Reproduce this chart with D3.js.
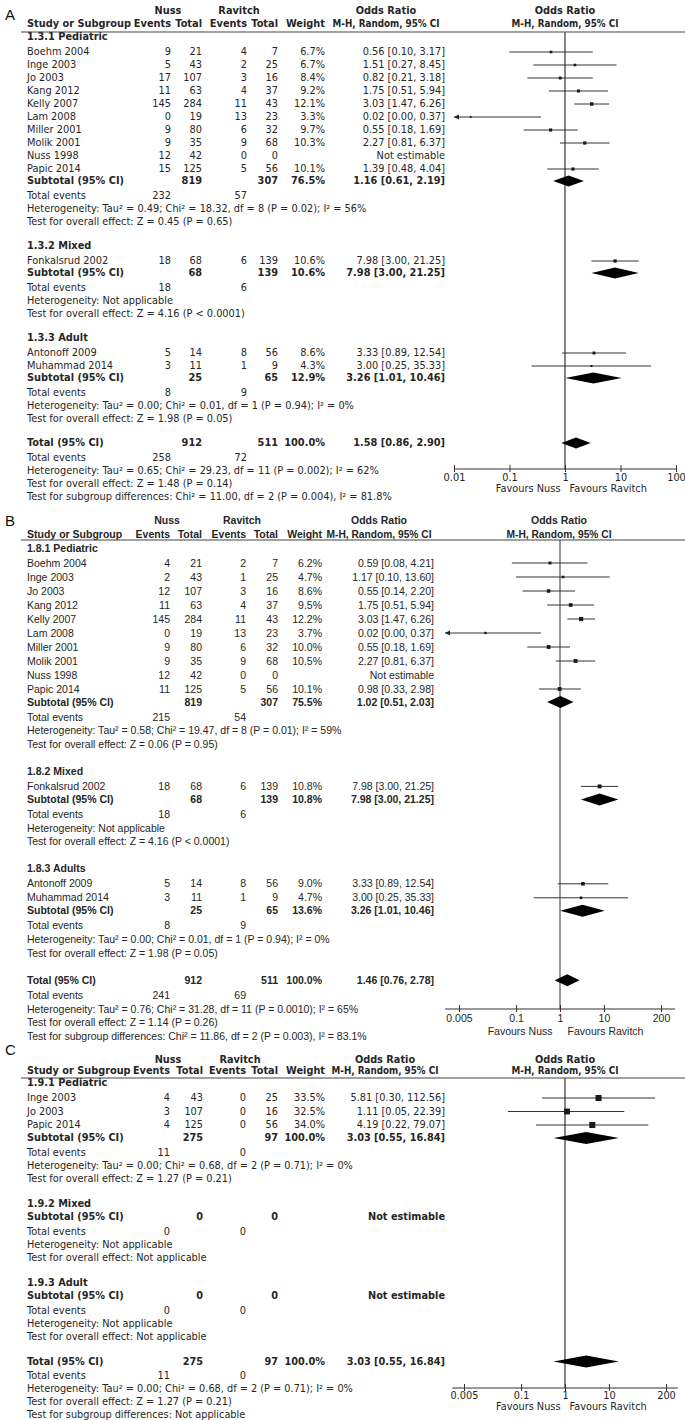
<!DOCTYPE html>
<html><head><meta charset="utf-8">
<script src="https://cdn.jsdelivr.net/npm/d3@7"></script>
<style>body{margin:0;background:#fff}</style>
</head><body>
<svg id="chart" width="685" height="1420"></svg>
<script>
// ================= DATA =================
// study rows: [name, nussEvents, nussTotal, ravitchEvents, ravitchTotal, weight%, OR, lower, upper]
const A_groupNames = ["1.3.1 Pediatric", "1.3.2 Mixed", "1.3.3 Adult"];
const A_pediatric = [
  ["Boehm 2004", 9, 21, 4, 7, 6.7, 0.56, 0.10, 3.17],
  ["Inge 2003", 5, 43, 2, 25, 6.7, 1.51, 0.27, 8.45],
  ["Jo 2003", 17, 107, 3, 16, 8.4, 0.82, 0.21, 3.18],
  ["Kang 2012", 11, 63, 4, 37, 9.2, 1.75, 0.51, 5.94],
  ["Kelly 2007", 145, 284, 11, 43, 12.1, 3.03, 1.47, 6.26],
  ["Lam 2008", 0, 19, 13, 23, 3.3, 0.02, 0.00, 0.37],
  ["Miller 2001", 9, 80, 6, 32, 9.7, 0.55, 0.18, 1.69],
  ["Molik 2001", 9, 35, 9, 68, 10.3, 2.27, 0.81, 6.37],
  ["Nuss 1998", 12, 42, 0, 0, null, null, null, null],
  ["Papic 2014", 15, 125, 5, 56, 10.1, 1.39, 0.48, 4.04]
];
const A_mixed = [["Fonkalsrud 2002", 18, 68, 6, 139, 10.6, 7.98, 3.00, 21.25]];
const A_adult = [
  ["Antonoff 2009", 5, 14, 8, 56, 8.6, 3.33, 0.89, 12.54],
  ["Muhammad 2014", 3, 11, 1, 9, 4.3, 3.00, 0.25, 35.33]
];
// subtotal: [nussTotal, ravitchTotal, weight, OR, lower, upper]
const A_subtotals = [[819, 307, 76.5, 1.16, 0.61, 2.19], [68, 139, 10.6, 7.98, 3.00, 21.25], [25, 65, 12.9, 3.26, 1.01, 10.46]];
const A_groupEvents = [[232, 57], [18, 6], [8, 9]];
const A_heterogeneity = [
  "Heterogeneity: Tau\u00b2 = 0.49; Chi\u00b2 = 18.32, df = 8 (P = 0.02); I\u00b2 = 56%",
  "Heterogeneity: Not applicable",
  "Heterogeneity: Tau\u00b2 = 0.00; Chi\u00b2 = 0.01, df = 1 (P = 0.94); I\u00b2 = 0%"
];
const A_overall = ["Test for overall effect: Z = 0.45 (P = 0.65)", "Test for overall effect: Z = 4.16 (P < 0.0001)", "Test for overall effect: Z = 1.98 (P = 0.05)"];
const A_total = [912, 511, 100.0, 1.58, 0.86, 2.90];
const A_totalEvents = [258, 72];
const A_totalHet = "Heterogeneity: Tau\u00b2 = 0.65; Chi\u00b2 = 29.23, df = 11 (P = 0.002); I\u00b2 = 62%";
const A_totalTest = "Test for overall effect: Z = 1.48 (P = 0.14)";
const A_subgroupTest = "Test for subgroup differences: Chi\u00b2 = 11.00, df = 2 (P = 0.004), I\u00b2 = 81.8%";
const A_ticks = [0.01, 0.1, 1, 10, 100];
const A_tickLabels = ["0.01", "0.1", "1", "10", "100"];

const B_groupNames = ["1.8.1 Pediatric", "1.8.2 Mixed", "1.8.3 Adults"];
const B_pediatric = [
  ["Boehm 2004", 4, 21, 2, 7, 6.2, 0.59, 0.08, 4.21],
  ["Inge 2003", 2, 43, 1, 25, 4.7, 1.17, 0.10, 13.60],
  ["Jo 2003", 12, 107, 3, 16, 8.6, 0.55, 0.14, 2.20],
  ["Kang 2012", 11, 63, 4, 37, 9.5, 1.75, 0.51, 5.94],
  ["Kelly 2007", 145, 284, 11, 43, 12.2, 3.03, 1.47, 6.26],
  ["Lam 2008", 0, 19, 13, 23, 3.7, 0.02, 0.00, 0.37],
  ["Miller 2001", 9, 80, 6, 32, 10.0, 0.55, 0.18, 1.69],
  ["Molik 2001", 9, 35, 9, 68, 10.5, 2.27, 0.81, 6.37],
  ["Nuss 1998", 12, 42, 0, 0, null, null, null, null],
  ["Papic 2014", 11, 125, 5, 56, 10.1, 0.98, 0.33, 2.98]
];
const B_mixed = [["Fonkalsrud 2002", 18, 68, 6, 139, 10.8, 7.98, 3.00, 21.25]];
const B_adult = [
  ["Antonoff 2009", 5, 14, 8, 56, 9.0, 3.33, 0.89, 12.54],
  ["Muhammad 2014", 3, 11, 1, 9, 4.7, 3.00, 0.25, 35.33]
];
const B_subtotals = [[819, 307, 75.5, 1.02, 0.51, 2.03], [68, 139, 10.8, 7.98, 3.00, 21.25], [25, 65, 13.6, 3.26, 1.01, 10.46]];
const B_groupEvents = [[215, 54], [18, 6], [8, 9]];
const B_heterogeneity = [
  "Heterogeneity: Tau\u00b2 = 0.58; Chi\u00b2 = 19.47, df = 8 (P = 0.01); I\u00b2 = 59%",
  "Heterogeneity: Not applicable",
  "Heterogeneity: Tau\u00b2 = 0.00; Chi\u00b2 = 0.01, df = 1 (P = 0.94); I\u00b2 = 0%"
];
const B_overall = ["Test for overall effect: Z = 0.06 (P = 0.95)", "Test for overall effect: Z = 4.16 (P < 0.0001)", "Test for overall effect: Z = 1.98 (P = 0.05)"];
const B_total = [912, 511, 100.0, 1.46, 0.76, 2.78];
const B_totalEvents = [241, 69];
const B_totalHet = "Heterogeneity: Tau\u00b2 = 0.76; Chi\u00b2 = 31.28, df = 11 (P = 0.0010); I\u00b2 = 65%";
const B_totalTest = "Test for overall effect: Z = 1.14 (P = 0.26)";
const B_subgroupTest = "Test for subgroup differences: Chi\u00b2 = 11.86, df = 2 (P = 0.003), I\u00b2 = 83.1%";
const B_ticks = [0.005, 0.1, 1, 10, 200];
const B_tickLabels = ["0.005", "0.1", "1", "10", "200"];

const C_groupNames = ["1.9.1 Pediatric", "1.9.2 Mixed", "1.9.3 Adult"];
const C_pediatric = [
  ["Inge 2003", 4, 43, 0, 25, 33.5, 5.81, 0.30, 112.56],
  ["Jo 2003", 3, 107, 0, 16, 32.5, 1.11, 0.05, 22.39],
  ["Papic 2014", 4, 125, 0, 56, 34.0, 4.19, 0.22, 79.07]
];
const C_mixed = [];
const C_adult = [];
const C_subtotals = [[275, 97, 100.0, 3.03, 0.55, 16.84], [0, 0, null, null, null, null], [0, 0, null, null, null, null]];
const C_groupEvents = [[11, 0], [0, 0], [0, 0]];
const C_heterogeneity = [
  "Heterogeneity: Tau\u00b2 = 0.00; Chi\u00b2 = 0.68, df = 2 (P = 0.71); I\u00b2 = 0%",
  "Heterogeneity: Not applicable",
  "Heterogeneity: Not applicable"
];
const C_overall = ["Test for overall effect: Z = 1.27 (P = 0.21)", "Test for overall effect: Not applicable", "Test for overall effect: Not applicable"];
const C_total = [275, 97, 100.0, 3.03, 0.55, 16.84];
const C_totalEvents = [11, 0];
const C_totalHet = "Heterogeneity: Tau\u00b2 = 0.00; Chi\u00b2 = 0.68, df = 2 (P = 0.71); I\u00b2 = 0%";
const C_totalTest = "Test for overall effect: Z = 1.27 (P = 0.21)";
const C_subgroupTest = "Test for subgroup differences: Not applicable";
const C_ticks = [0.005, 0.1, 1, 10, 200];
const C_tickLabels = ["0.005", "0.1", "1", "10", "200"];

// ================= LAYOUT (positions / styles only) =================
const lucida = '"DejaVu Sans", "Lucida Grande", sans-serif';
const arial = '"Liberation Sans", Arial, sans-serif';
const layoutA = {family: lucida, hetWidth: 340, letter: "A", letterY: 15, h1: 11, h2: 24, line: 32, first: 37,
  L: 15, P: 13, S: 12, T: 14.5, H: 13, G: 24.5,
  cols: {ne: 171, nt: 202, re: 247, rt: 278, w: 325, or: 445}, nussC: 168, ravC: 239, orC: 386, plotC: 565, mhW: 107,
  domain: [0.01, 100], range: [454, 676], extent: [0.01, 100], axisY: 469, tickY: 478, favY: 489, favGap: 4.5,
  vStroke: "#666", vWidth: 1.6, dH: 11, sqK: 1.0};
const layoutB = {family: arial, hetWidth: 315, letter: "B", letterY: 521, h1: 520, h2: 534, line: 540, first: 548,
  L: 15, P: 14, S: 13, T: 15, H: 13.7, G: 27,
  cols: {ne: 170, nt: 202, re: 246, rt: 278, w: 322, or: 434}, nussC: 167, ravC: 242, orC: 379, plotC: 559, mhW: 105,
  domain: [0.005, 200], range: [459, 661], extent: [0.0024, 420], axisY: 1009, tickY: 1018, favY: 1031, favGap: 7.5,
  vStroke: "#555", vWidth: 1.2, dH: 12, sqK: 1.2};
const layoutC = {family: lucida, hetWidth: 326, letter: "C", letterY: 1050, h1: 1060, h2: 1071, line: 1078, first: 1083,
  L: 15, P: 13.5, S: 13, T: 14.5, H: 13, G: 25.3,
  cols: {ne: 170, nt: 203, re: 246, rt: 278, w: 325, or: 445}, nussC: 168, ravC: 240, orC: 385, plotC: 565, mhW: 107,
  domain: [0.005, 200], range: [464, 666], extent: [0.0027, 370], axisY: 1388, tickY: 1396, favY: 1407, favGap: 4.5,
  vStroke: "#666", vWidth: 1.6, dH: 12, sqK: 1.04};

const svg = d3.select("#chart");
const INK = "#262626";

function fitSize(family, text, target) {
  const t = svg.append("text").attr("font-family", family).attr("font-size", 10).text(text);
  const w = t.node().getComputedTextLength();
  t.remove();
  return 10 * target / w;
}
const f2 = v => v.toFixed(2);
const orText = r => r[0] == null ? "Not estimable" : `${f2(r[0])} [${f2(r[1])}, ${f2(r[2])}]`;

function render(d, L) {
  const g = svg.append("g");
  const fs = fitSize(L.family, d.heterogeneity[0], L.hetWidth);
  const txt = (x, y, s, anchor = "start", bold = false) =>
    g.append("text").attr("x", x).attr("y", y).attr("dy", "0.35em")
      .attr("font-family", L.family).attr("font-size", fs).attr("fill", INK)
      .attr("font-weight", bold ? "bold" : "normal").attr("text-anchor", anchor).text(s);

  const x = d3.scaleLog().domain(L.domain).range(L.range);
  const xmin = x(L.extent[0]), xmax = x(L.extent[1]);
  const C = L.cols;

  // panel letter
  g.append("text").attr("x", 5).attr("y", L.letterY).attr("dy", "0.36em")
    .attr("font-family", arial).attr("font-size", 15).attr("fill", "#111").text(L.letter);

  // headers
  txt(L.nussC, L.h1, "Nuss", "middle", true);
  txt(L.ravC, L.h1, "Ravitch", "middle", true);
  txt(L.orC, L.h1, "Odds Ratio", "middle", true);
  txt(L.plotC, L.h1, "Odds Ratio", "middle", true);
  txt(27, L.h2, "Study or Subgroup", "start", true);
  txt(C.ne, L.h2, "Events", "end", true);
  txt(C.nt, L.h2, "Total", "end", true);
  txt(C.re, L.h2, "Events", "end", true);
  txt(C.rt, L.h2, "Total", "end", true);
  txt(C.w, L.h2, "Weight", "end", true);
  txt(L.orC, L.h2, "M-H, Random, 95% CI", "middle", true).attr("textLength", L.mhW).attr("lengthAdjust", "spacingAndGlyphs");
  txt(L.plotC, L.h2, "M-H, Random, 95% CI", "middle", true).attr("textLength", L.mhW).attr("lengthAdjust", "spacingAndGlyphs");
  g.append("line").attr("x1", 21).attr("x2", 685).attr("y1", L.line).attr("y2", L.line)
    .attr("stroke", "#444").attr("stroke-width", 1.2);

  // line of no effect
  g.append("line").attr("x1", x(1)).attr("x2", x(1)).attr("y1", L.line).attr("y2", L.axisY)
    .attr("stroke", L.vStroke).attr("stroke-width", L.vWidth);

  const ciMark = (or, lo, hi, w, y) => {
    const a = lo <= L.extent[0] ? xmin : x(lo);
    const b = hi >= L.extent[1] ? xmax : x(hi);
    g.append("line").attr("x1", a).attr("x2", b).attr("y1", y).attr("y2", y)
      .attr("stroke", "#333").attr("stroke-width", 1);
    if (lo <= L.extent[0]) g.append("path").attr("d", `M${a},${y}L${a + 5},${y - 2.6}L${a + 5},${y + 2.6}Z`).attr("fill", "#222");
    if (hi >= L.extent[1]) g.append("path").attr("d", `M${b},${y}L${b - 5},${y - 2.6}L${b - 5},${y + 2.6}Z`).attr("fill", "#222");
    const s = Math.max(1.8, L.sqK * Math.sqrt(w));
    g.append("rect").attr("x", x(or) - s / 2).attr("y", y - s / 2).attr("width", s).attr("height", s).attr("fill", "#1a1a1a");
  };
  const diamond = (or, lo, hi, y) => {
    const h = L.dH / 2;
    g.append("path").attr("d", `M${x(lo)},${y}L${x(or)},${y - h}L${x(hi)},${y}L${x(or)},${y + h}Z`).attr("fill", "#000");
  };
  const studyRow = (r, y) => {
    txt(27, y, r[0]);
    txt(C.ne, y, r[1], "end"); txt(C.nt, y, r[2], "end");
    txt(C.re, y, r[3], "end"); txt(C.rt, y, r[4], "end");
    if (r[5] != null) txt(C.w, y, r[5].toFixed(1) + "%", "end");
    txt(C.or, y, orText(r.slice(6)), "end");
    if (r[6] != null) ciMark(r[6], r[7], r[8], r[5], y);
  };
  const summaryRow = (label, s, y) => {
    txt(27, y, label, "start", true);
    txt(C.nt, y, s[0], "end", true); txt(C.rt, y, s[1], "end", true);
    if (s[2] != null) txt(C.w, y, s[2].toFixed(1) + "%", "end", true);
    txt(C.or, y, orText(s.slice(3)), "end", true);
    if (s[3] != null) diamond(s[3], s[4], s[5], y);
  };
  const eventsRow = (e, y) => {
    txt(27, y, "Total events");
    txt(C.ne, y, e[0], "end"); txt(C.re, y, e[1], "end");
  };

  let y = L.first;
  d.groups.forEach((name, gi) => {
    txt(27, y, name, "start", true);
    const st = d.studies[gi];
    if (st.length) {
      y += L.L;
      st.forEach((r, i) => { if (i > 0) y += L.P; studyRow(r, y); });
    }
    y += L.S;
    summaryRow("Subtotal (95% CI)", d.subtotals[gi], y);
    y += L.T; eventsRow(d.events[gi], y);
    y += L.H; txt(27, y, d.heterogeneity[gi]);
    y += L.H; txt(27, y, d.overall[gi]);
    y += L.G;
  });
  summaryRow("Total (95% CI)", d.total, y);
  y += L.T; eventsRow(d.totalEvents, y);
  y += L.H; txt(27, y, d.totalHet);
  y += L.H; txt(27, y, d.totalTest);
  y += L.H; txt(27, y, d.subgroupTest);

  // axis
  const ax = g.append("g").attr("transform", `translate(0,${L.axisY})`)
    .call(d3.axisBottom(x).tickValues(d.ticks).tickFormat((v, i) => d.tickLabels[i]).tickSizeOuter(0));
  ax.select(".domain").remove();
  ax.selectAll(".tick line").attr("y1", -4).attr("y2", 3).attr("stroke", "#333");
  ax.selectAll(".tick text").attr("y", L.tickY - L.axisY).attr("dy", "0.35em")
    .attr("font-family", L.family).attr("font-size", fs).attr("fill", INK);
  g.append("line").attr("x1", xmin).attr("x2", xmax).attr("y1", L.axisY).attr("y2", L.axisY)
    .attr("stroke", "#333").attr("stroke-width", 1.2);
  txt(x(1) - L.favGap, L.favY, "Favours Nuss", "end");
  txt(x(1) + L.favGap, L.favY, "Favours Ravitch", "start");
}

render({groups: A_groupNames, studies: [A_pediatric, A_mixed, A_adult], subtotals: A_subtotals, events: A_groupEvents,
  heterogeneity: A_heterogeneity, overall: A_overall, total: A_total, totalEvents: A_totalEvents,
  totalHet: A_totalHet, totalTest: A_totalTest, subgroupTest: A_subgroupTest, ticks: A_ticks, tickLabels: A_tickLabels}, layoutA);
render({groups: B_groupNames, studies: [B_pediatric, B_mixed, B_adult], subtotals: B_subtotals, events: B_groupEvents,
  heterogeneity: B_heterogeneity, overall: B_overall, total: B_total, totalEvents: B_totalEvents,
  totalHet: B_totalHet, totalTest: B_totalTest, subgroupTest: B_subgroupTest, ticks: B_ticks, tickLabels: B_tickLabels}, layoutB);
render({groups: C_groupNames, studies: [C_pediatric, C_mixed, C_adult], subtotals: C_subtotals, events: C_groupEvents,
  heterogeneity: C_heterogeneity, overall: C_overall, total: C_total, totalEvents: C_totalEvents,
  totalHet: C_totalHet, totalTest: C_totalTest, subgroupTest: C_subgroupTest, ticks: C_ticks, tickLabels: C_tickLabels}, layoutC);
</script>
</body></html>
